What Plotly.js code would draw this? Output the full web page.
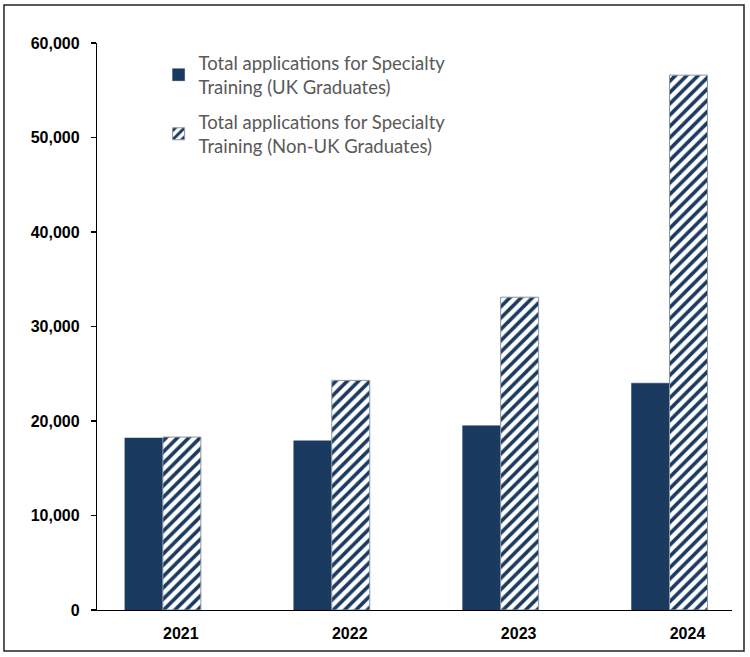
<!DOCTYPE html>
<html>
<head>
<meta charset="utf-8">
<script src="https://cdn.plot.ly/plotly-3.0.1.min.js"></script>
<style>html,body{margin:0;padding:0;background:#fff;}#chart{width:750px;height:657px;}</style>
</head>
<body>
<div id="chart"></div>
<script>
const years = ['2021', '2022', '2023', '2024'];
const ukGraduates = [18200, 17900, 19500, 24000];
const nonUkGraduates = [18300, 24300, 33100, 56600];
const seriesNames = [
  'Total applications for Specialty<br>Training (UK Graduates)',
  'Total applications for Specialty<br>Training (Non-UK Graduates)'
];
const yTicks = [0, 10000, 20000, 30000, 40000, 50000, 60000];

const navy = '#1B3A60';
const traces = [
  {
    type: 'bar', name: seriesNames[0], x: years, y: ukGraduates, legendgroup: 'uk',
    marker: {color: navy, line: {color: navy, width: 0.5}}
  },
  {
    type: 'bar', name: seriesNames[1], x: years, y: nonUkGraduates, legendgroup: 'nonuk',
    marker: {
      color: 'white',
      line: {color: '#8a96a3', width: 1},
      pattern: {shape: '/', fgcolor: navy, bgcolor: 'white', size: 8, solidity: 0.45, fillmode: 'replace'}
    }
  }
];

const layout = {
  width: 750, height: 657,
  margin: {l: 97, r: 18, t: 43, b: 47},
  paper_bgcolor: 'white', plot_bgcolor: 'white',
  barmode: 'group', bargap: 0.55, bargroupgap: 0,
  showlegend: true,
  legend: {
    x: 0.097, y: 0.998, xanchor: 'left', yanchor: 'top',
    font: {family: 'Lato, "Open Sans", sans-serif', size: 18.5, color: '#595959'},
    tracegroupgap: 8, bgcolor: 'rgba(0,0,0,0)'
  },
  xaxis: {
    type: 'category', range: [-0.39, 3.37],
    showline: true, linecolor: '#000', linewidth: 1.2,
    ticks: '', showgrid: false, zeroline: false,
    tickfont: {family: 'Arial, "Liberation Sans", sans-serif', size: 16, color: '#000', weight: 'bold'},
    ticklabelstandoff: 9, ticklabelshift: 18
  },
  yaxis: {
    range: [0, 60000], tickvals: yTicks,
    tickformat: ',d',
    showline: true, linecolor: '#000', linewidth: 1.2,
    ticks: 'outside', ticklen: 5, tickcolor: '#000', tickwidth: 1.2,
    showgrid: false, zeroline: false,
    tickfont: {family: 'Arial, "Liberation Sans", sans-serif', size: 16, color: '#000', weight: 'bold'},
    ticklabelstandoff: 8
  },
  shapes: [{
    type: 'rect', xref: 'paper', yref: 'paper',
    x0: -0.1465, x1: 1.0189, y0: -0.0723, y1: 1.067,
    line: {color: '#222', width: 1.5}, fillcolor: 'rgba(0,0,0,0)'
  }]
};

Plotly.newPlot('chart', traces, layout, {displayModeBar: false, staticPlot: true});
</script>
</body>
</html>
